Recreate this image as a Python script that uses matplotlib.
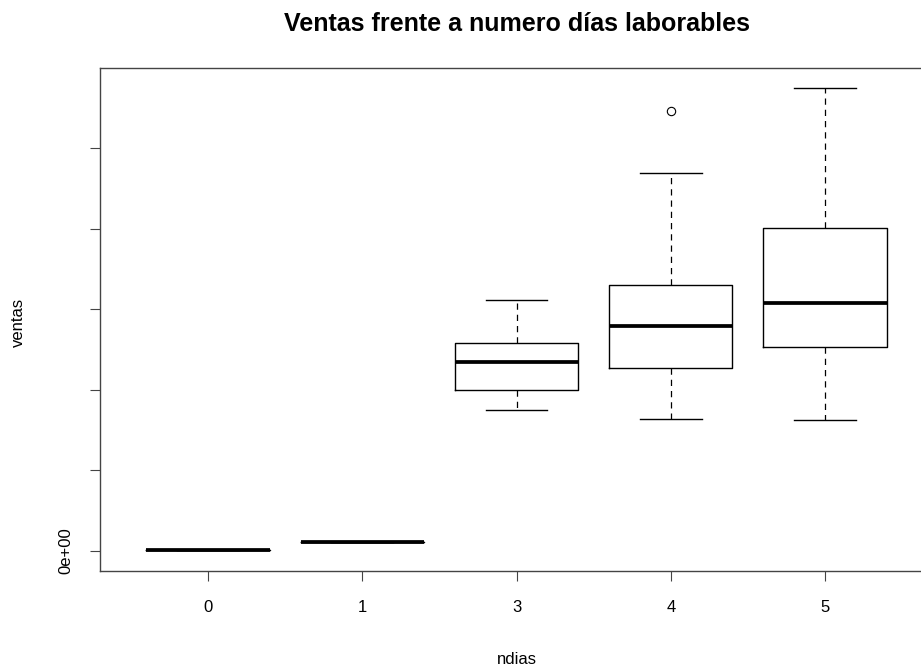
import numpy as np
import matplotlib
matplotlib.use("Agg")
import matplotlib.pyplot as plt

plt.rcParams['font.family'] = ['Liberation Sans', 'DejaVu Sans']

# ventas por numero de dias laborables (unidades de 1e5)
ndias = ['0', '1', '3', '4', '5']
whislo = [0.01, 0.11, 1.75, 1.64, 1.63]
q1 = [0.01, 0.11, 2.00, 2.27, 2.53]
med = [0.01, 0.11, 2.35, 2.79, 3.08]
q3 = [0.01, 0.11, 2.58, 3.30, 4.01]
whishi = [0.01, 0.11, 3.11, 4.69, 5.74]
fliers = [[], [], [], [5.46], []]

yticks = [0, 1, 2, 3, 4, 5]
ytick_labels = ['0e+00', '', '', '', '', '']

W, H = 921, 670
fig = plt.figure(figsize=(W / 100, H / 100), dpi=100)
ax = fig.add_axes([100 / W, (H - 571) / H, 833 / W, 503 / H])

stats = []
for i in range(len(ndias)):
    stats.append(dict(whislo=whislo[i], q1=q1[i], med=med[i], q3=q3[i],
                      whishi=whishi[i], fliers=fliers[i], label=ndias[i]))

pos = np.arange(1, len(ndias) + 1)
ax.bxp(stats, positions=pos, widths=0.8, capwidths=0.4, showfliers=True,
       boxprops=dict(color='black', linewidth=1.0),
       medianprops=dict(color='black', linewidth=2.7, solid_capstyle='butt'),
       whiskerprops=dict(color='black', linewidth=0.9, linestyle=(0, (5, 4))),
       capprops=dict(color='black', linewidth=1.0),
       flierprops=dict(marker='o', markersize=6, markerfacecolor='none',
                       markeredgecolor='black', markeredgewidth=0.8))

ax.set_xlim(0.3, 5.7)
ax.set_ylim((551 - 571) / 80.6, (551 - 68) / 80.6)
ax.set_xticks(pos)
ax.set_xticklabels(ndias)
ax.set_yticks(yticks)
ax.set_yticklabels(ytick_labels, rotation=90, va='center')

for s in ax.spines.values():
    s.set_color('#444444')
    s.set_linewidth(1.0)
ax.tick_params(axis='both', length=7, width=0.8, color='#444444',
               labelsize=12, labelcolor='black')
ax.tick_params(axis='y', pad=12)
ax.tick_params(axis='x', pad=14)

fig.text(517 / W, 1 - 31 / H, 'Ventas frente a numero días laborables',
         ha='center', va='baseline', fontsize=18, fontweight='bold')
fig.text(517 / W, 1 - 660 / H, 'ndias', ha='center', va='center', fontsize=12)
fig.text(18 / W, 1 - 322 / H, 'ventas', ha='center', va='center',
         rotation=90, fontsize=12)

fig.savefig('out.png', dpi=100)
